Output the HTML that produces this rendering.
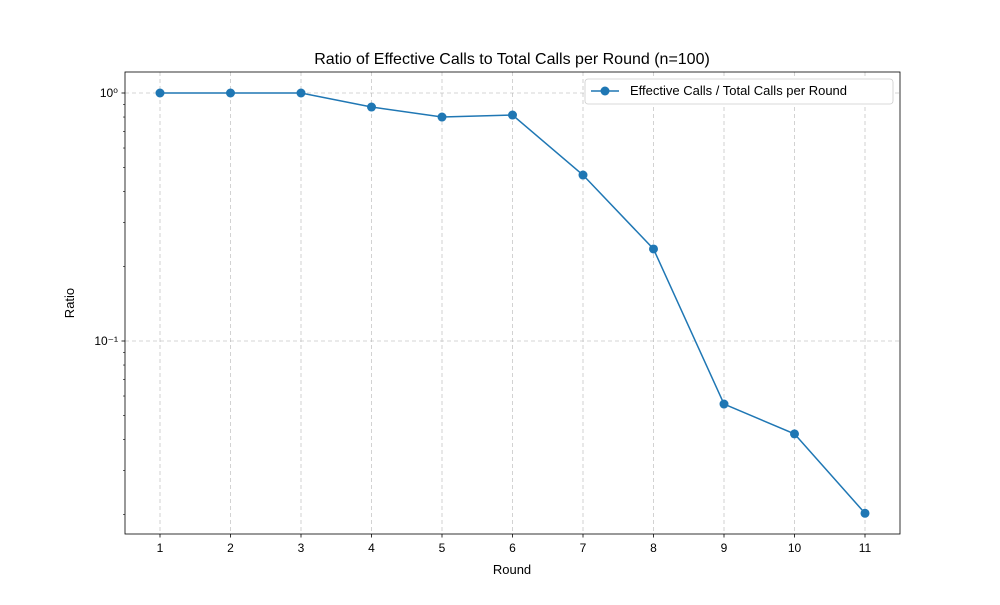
<!DOCTYPE html>
<html><head><meta charset="utf-8"><style>
body{margin:0;background:#fff;}
svg text{font-family:"Liberation Sans","DejaVu Sans",sans-serif;}
</style></head><body>
<svg id="chart" width="1000" height="600" xmlns="http://www.w3.org/2000/svg"></svg>
<script>
const rounds = [1,2,3,4,5,6,7,8,9,10,11];
const ratios = [1.0,1.0,1.0,0.878,0.80,0.815,0.467,0.235,0.0557,0.0422,0.0202];
const yMajorTicks = [0.1,1];
const yMajorLabels = ["10\u207B\u00B9","10\u2070"];

const L=125,R=900,T=72,B=534;
const NS="http://www.w3.org/2000/svg";
const svg=document.getElementById('chart');
const xs=v=>160+(v-1)*70.5;
const ys=v=>93-Math.log10(v)*248;
function el(tag,attrs,parent){const e=document.createElementNS(NS,tag);for(const k in attrs)e.setAttribute(k,attrs[k]);(parent||svg).appendChild(e);return e;}

const title=el('text',{x:512,y:64,'text-anchor':'middle','font-size':16,fill:'#000'});


title.textContent='Ratio of Effective Calls to Total Calls per Round (n=100)';

// grid + x ticks
rounds.forEach(r=>{
  const x=xs(r);
  const g=el('line',{x1:x,x2:x,y1:T,y2:B,stroke:'#b0b0b0','stroke-dasharray':'4,3','stroke-width':0.8,opacity:0.7});
  
  
  el('line',{x1:x,x2:x,y1:B,y2:B+3.5,stroke:'#000','stroke-width':0.8});
  const t=el('text',{x:x,y:B+18,'text-anchor':'middle','font-size':12,fill:'#000'});
  
  
  t.textContent=r;
});
yMajorTicks.forEach((v,i)=>{
  const y=ys(v);
  const g=el('line',{x1:L,x2:R,y1:y,y2:y,stroke:'#b0b0b0','stroke-dasharray':'4,3','stroke-width':0.8,opacity:0.7});
  
  
  el('line',{x1:L-3.5,x2:L,y1:y,y2:y,stroke:'#000','stroke-width':0.8});
  const t=el('text',{x:L-7,y:y+4,'text-anchor':'end','font-size':12,fill:'#000'});
  
  
  t.textContent=yMajorLabels[i];
});
// minor ticks
[0.01,0.1].forEach(d=>{for(let k=2;k<=9;k++){const v=d*k;const y=ys(v);if(y>T&&y<B)el('line',{x1:L-2,x2:L,y1:y,y2:y,stroke:'#000','stroke-width':0.6});}});

const frame=el('rect',{x:L,y:T,width:R-L,height:B-T,fill:'none',stroke:'#000','stroke-width':0.8});



const xl=el('text',{x:512,y:574,'text-anchor':'middle','font-size':13,fill:'#000'});


xl.textContent='Round';
const yl=el('text',{x:74,y:303,'text-anchor':'middle','font-size':13,fill:'#000',transform:'rotate(-90 74 303)'});


yl.textContent='Ratio';

const line=el('polyline',{points:rounds.map((r,i)=>xs(r)+','+ys(ratios[i])).join(' '),fill:'none',stroke:'#1f77b4','stroke-width':1.5});


rounds.forEach((r,i)=>{
  const c=el('circle',{cx:xs(r),cy:ys(ratios[i]),r:4.5,fill:'#1f77b4'});
  
  
});

// legend
const lg=el('g',{});


el('rect',{x:585,y:79,width:308,height:25,rx:3,fill:'#fff',stroke:'#ccc','stroke-width':0.8},lg);
el('line',{x1:591,x2:619,y1:91,y2:91,stroke:'#1f77b4','stroke-width':1.5},lg);
el('circle',{cx:605,cy:91,r:4.5,fill:'#1f77b4'},lg);
const lt=el('text',{x:630,y:95,'font-size':13,fill:'#000'},lg);


lt.textContent='Effective Calls / Total Calls per Round';
</script>
</body></html>
